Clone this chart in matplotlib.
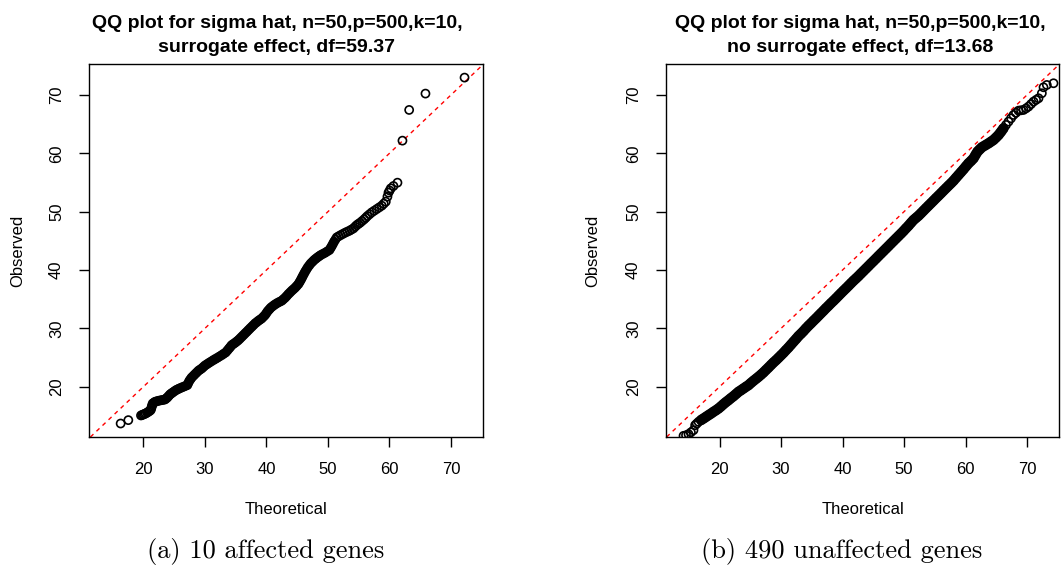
import numpy as np
import matplotlib.pyplot as plt

plt.rcParams['font.family'] = ['Liberation Sans', 'DejaVu Sans']

# (a) 10 affected genes: theoretical vs observed quantiles
theo_a = [16.31, 17.56, 19.62, 19.81, 20.00, 20.19, 20.38, 20.60, 20.81, 21.00,
          21.19, 21.28, 21.36, 21.44, 21.52, 21.71, 21.90, 22.17, 22.44, 22.71,
          22.98, 23.25, 23.52, 23.71, 23.90, 24.12, 24.34, 24.55, 24.77, 25.04,
          25.31, 25.58, 25.85, 26.18, 26.50, 26.82, 27.15, 27.31, 27.48, 27.67,
          27.86, 28.13, 28.40, 28.67, 28.94, 29.21, 29.49, 29.76, 30.03, 30.35,
          30.68, 31.03, 31.38, 31.70, 32.03, 32.38, 32.74, 33.06, 33.39, 33.66,
          33.93, 34.15, 34.36, 34.63, 34.91, 35.18, 35.45, 35.72, 35.99, 36.26,
          36.53, 36.80, 37.07, 37.34, 37.62, 37.89, 38.16, 38.43, 38.70, 38.97,
          39.24, 39.51, 39.78, 40.00, 40.22, 40.46, 40.70, 40.97, 41.25, 41.54,
          41.84, 42.16, 42.49, 42.76, 43.04, 43.31, 43.58, 43.85, 44.12, 44.39,
          44.66, 44.93, 45.20, 45.39, 45.58, 45.75, 45.91, 46.10, 46.29, 46.50,
          46.72, 46.96, 47.21, 47.48, 47.75, 48.02, 48.29, 48.56, 48.83, 49.18,
          49.54, 49.89, 50.24, 50.43, 50.62, 50.81, 51.00, 51.22, 51.44, 51.76,
          52.09, 52.44, 52.79, 53.14, 53.50, 53.82, 54.15, 54.42, 54.69, 54.96,
          55.23, 55.55, 55.88, 56.15, 56.42, 56.77, 57.13, 57.53, 57.94, 58.34,
          58.75, 59.07, 59.40, 59.67, 59.84, 60.03, 60.22, 60.65, 61.30, 62.11,
          63.20, 65.85, 72.20]
obs_a = [13.71, 14.29, 15.09, 15.18, 15.26, 15.35, 15.43, 15.57, 15.71, 15.85,
         16.00, 16.28, 16.57, 16.85, 17.14, 17.28, 17.43, 17.52, 17.60, 17.66,
         17.71, 17.77, 17.83, 18.00, 18.17, 18.43, 18.69, 18.86, 19.03, 19.23,
         19.43, 19.57, 19.71, 19.86, 20.00, 20.14, 20.29, 20.66, 21.03, 21.31,
         21.60, 21.88, 22.17, 22.45, 22.74, 22.94, 23.14, 23.40, 23.66, 23.88,
         24.11, 24.34, 24.57, 24.77, 24.97, 25.20, 25.43, 25.66, 25.89, 26.23,
         26.57, 26.85, 27.14, 27.34, 27.54, 27.77, 28.00, 28.28, 28.57, 28.85,
         29.14, 29.42, 29.71, 30.00, 30.29, 30.57, 30.86, 31.08, 31.31, 31.51,
         31.71, 32.00, 32.29, 32.63, 32.97, 33.25, 33.54, 33.77, 34.00, 34.20,
         34.40, 34.57, 34.74, 35.00, 35.26, 35.57, 35.89, 36.17, 36.46, 36.71,
         36.97, 37.28, 37.60, 37.94, 38.29, 38.63, 38.97, 39.34, 39.71, 40.08,
         40.46, 40.80, 41.14, 41.42, 41.71, 41.94, 42.17, 42.37, 42.57, 42.77,
         42.97, 43.20, 43.43, 43.77, 44.11, 44.48, 44.86, 45.23, 45.60, 45.80,
         46.00, 46.20, 46.40, 46.57, 46.74, 46.94, 47.14, 47.43, 47.71, 47.91,
         48.11, 48.40, 48.69, 48.97, 49.26, 49.57, 49.89, 50.17, 50.46, 50.74,
         51.03, 51.37, 51.71, 52.57, 53.26, 53.63, 54.00, 54.40, 54.97, 62.17,
         67.43, 70.23, 72.97]

# (b) 490 unaffected genes
theo_b = [14.15, 14.55, 14.96, 15.35, 15.77, 16.04, 16.30, 16.59, 17.00, 17.40,
          17.80, 18.21, 18.60, 19.02, 19.45, 19.84, 20.25, 20.65, 21.05, 21.46,
          21.85, 22.28, 22.70, 23.09, 23.50, 23.90, 24.30, 24.72, 25.10, 25.53,
          25.95, 26.34, 26.75, 27.15, 27.55, 27.97, 28.38, 28.78, 29.20, 29.59,
          30.00, 30.41, 30.80, 31.22, 31.62, 32.03, 32.45, 32.85, 33.25, 33.66,
          34.05, 34.47, 34.88, 35.28, 35.70, 36.10, 36.50, 36.91, 37.30, 37.72,
          38.12, 38.54, 38.95, 39.35, 39.75, 40.16, 40.57, 40.98, 41.38, 41.79,
          42.20, 42.60, 43.00, 43.41, 43.82, 44.23, 44.63, 45.04, 45.45, 45.85,
          46.26, 46.67, 47.08, 47.48, 47.88, 48.29, 48.70, 49.11, 49.52, 49.92,
          50.32, 50.73, 51.14, 51.54, 51.95, 52.36, 52.77, 53.17, 53.57, 53.98,
          54.39, 54.80, 55.20, 55.61, 56.02, 56.42, 56.83, 57.24, 57.65, 58.05,
          58.45, 58.86, 59.27, 59.67, 60.08, 60.49, 60.90, 61.30, 61.62, 61.95,
          62.30, 62.66, 63.20, 63.74, 64.15, 64.55, 64.96, 65.37, 65.78, 66.18,
          66.58, 66.99, 67.40, 67.80, 68.20, 68.62, 69.03, 69.43, 69.84, 70.24,
          70.65, 71.06, 71.47, 71.87, 72.41, 72.68, 73.22, 74.31]
obs_b = [11.60, 11.70, 11.89, 12.20, 12.57, 13.43, 13.70, 14.00, 14.30, 14.57,
         14.85, 15.14, 15.40, 15.71, 16.00, 16.29, 16.65, 17.03, 17.38, 17.71,
         18.05, 18.40, 18.78, 19.14, 19.42, 19.71, 20.00, 20.29, 20.65, 21.03,
         21.38, 21.71, 22.08, 22.46, 22.88, 23.31, 23.75, 24.17, 24.57, 24.97,
         25.40, 25.83, 26.28, 26.74, 27.22, 27.71, 28.20, 28.69, 29.10, 29.54,
         30.00, 30.46, 30.88, 31.31, 31.74, 32.17, 32.60, 33.03, 33.46, 33.89,
         34.32, 34.74, 35.17, 35.60, 36.03, 36.46, 36.88, 37.31, 37.74, 38.17,
         38.57, 38.97, 39.40, 39.83, 40.26, 40.69, 41.12, 41.54, 41.97, 42.40,
         42.83, 43.26, 43.69, 44.11, 44.54, 44.97, 45.40, 45.83, 46.26, 46.69,
         47.15, 47.60, 48.10, 48.57, 48.94, 49.31, 49.74, 50.17, 50.60, 51.03,
         51.46, 51.89, 52.32, 52.74, 53.17, 53.60, 54.03, 54.46, 54.88, 55.31,
         55.80, 56.29, 56.78, 57.26, 57.78, 58.29, 58.70, 59.14, 59.72, 60.29,
         60.66, 61.03, 61.37, 61.71, 62.00, 62.29, 62.70, 63.14, 63.70, 64.29,
         64.86, 65.43, 66.00, 66.57, 66.94, 67.31, 67.37, 67.43, 67.70, 68.00,
         68.43, 68.86, 69.15, 69.43, 70.29, 71.31, 71.71, 72.00]

titles = [["QQ plot for sigma hat, n=50,p=500,k=10,", "surrogate effect, df=59.37"],
          ["QQ plot for sigma hat, n=50,p=500,k=10,", "no surrogate effect, df=13.68"]]
captions = ["(a) 10 affected genes", "(b) 490 unaffected genes"]
ticks = [20, 30, 40, 50, 60, 70]

W, H = 1062, 566
fig = plt.figure(figsize=(W / 100, H / 100), dpi=100)

def box(left, right, top, bottom):
    return fig.add_axes([left / W, 1 - bottom / H, (right - left) / W, (bottom - top) / H])

axes = [box(89, 483, 64, 437), box(666, 1059, 64, 437)]
data = [(theo_a, obs_a), (theo_b, obs_b)]
# stretch of points that overplot into a solid black band in the original
dense = [slice(16, 127), slice(8, 130)]
band_lw = [6.0, 7.5]
title_x = [277, 860]
caption_x = [266, 842]
ylab_x = [18, 593]
xlims = [(11.17, 75.2), (11.3, 75.2)]

for i, ax in enumerate(axes):
    tx, ob = data[i]
    ax.plot(tx[dense[i]], ob[dense[i]], color='black', lw=band_lw[i],
            solid_capstyle='round', solid_joinstyle='round', zorder=3)
    ax.scatter(tx, ob, s=34, facecolors='none', edgecolors='black', linewidths=1.2, zorder=3)
    ax.axline((0, 0), slope=1, color='red', lw=1, ls=(0, (3, 3)), zorder=2)
    ax.set_xlim(*xlims[i])
    ax.set_ylim(11.4, 75.3)
    ax.set_xticks(ticks)
    ax.set_yticks(ticks)
    ax.tick_params(direction='out', length=7, width=1, pad=11, labelsize=12)
    for lab in ax.get_yticklabels():
        lab.set_rotation(90)
        lab.set_va('center')
    for sp in ax.spines.values():
        sp.set_linewidth(1)
    bb = ax.get_position()
    w_px = bb.width * W
    h_px = bb.height * H
    ax.set_xlabel("Theoretical", fontsize=12, va='center')
    ax.xaxis.set_label_coords(0.5, -(509 - 437) / h_px)
    ax.set_ylabel("Observed", fontsize=12, va='center')
    ax.yaxis.set_label_coords(-(bb.x0 * W - ylab_x[i]) / w_px, 0.5)
    fig.text(title_x[i] / W, 1 - 28 / H, titles[i][0], ha='center', va='baseline',
             fontsize=14, fontweight='bold')
    fig.text(title_x[i] / W, 1 - 52 / H, titles[i][1], ha='center', va='baseline',
             fontsize=14, fontweight='bold')
    fig.text(caption_x[i] / W, 1 - 558 / H, captions[i], ha='center', va='baseline',
             fontsize=19, family='cmr10')

fig.savefig('out.png', dpi=100)
